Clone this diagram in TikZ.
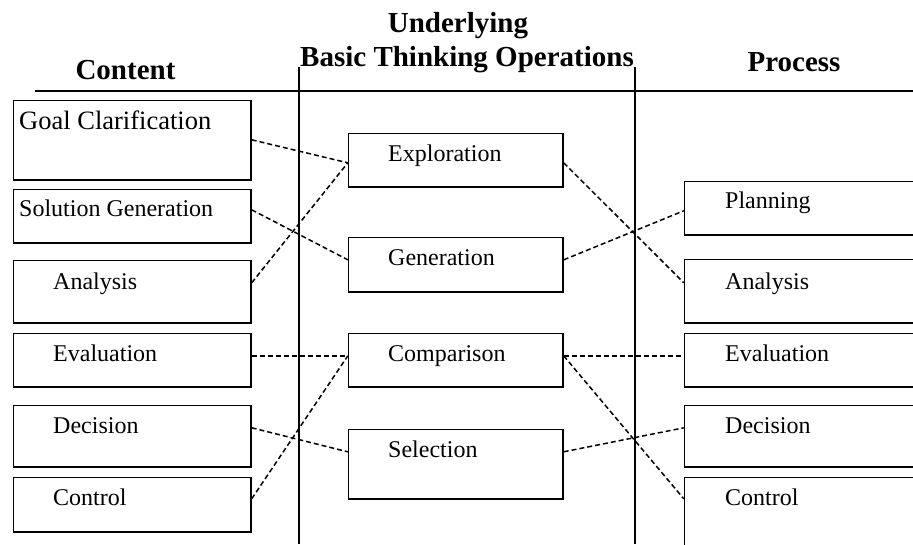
\documentclass[tikz,border=0pt]{standalone}
\usepackage{fontspec}
\setmainfont{Liberation Serif}
\usetikzlibrary{calc}
\begin{document}
\begin{tikzpicture}[x=1pt,y=-1pt,
  box/.style={draw, line width=1.5pt, inner sep=0pt, anchor=north west},
  txt/.style={anchor=base west, inner sep=0pt, font=\fontsize{24}{27}\selectfont},
  head/.style={anchor=base, inner sep=0pt, font=\fontsize{29}{32}\selectfont\bfseries},
  rule/.style={line width=1.5pt},
  link/.style={line width=1.5pt, dash pattern=on 5pt off 3pt}]
\useasboundingbox (0,0) rectangle (913,544);
\clip (0,0) rectangle (913,544);
% headers
\node[head] (hcontent) at (125.5,79) {Content};
\node[head] (hunder) at (458,32) {Underlying};
\node[head] (hbasic) at (467,66) {Basic Thinking Operations};
\node[head] (hprocess) at (794,71) {Process};
\draw[rule] (35,91) -- (913,91);
\draw[rule] (299,67) -- (299,544);
\draw[rule] (635,67) -- (635,544);
% left boxes
\node[box, minimum width=237.4pt, minimum height=79.4pt] (lgoal) at (12.8,99.8) {};
\node[box, minimum width=237.4pt, minimum height=53.4pt] (lsol) at (12.8,188.8) {};
\node[box, minimum width=237.4pt, minimum height=62.4pt] (lana) at (12.8,259.8) {};
\node[box, minimum width=237.4pt, minimum height=53.4pt] (leva) at (12.8,332.8) {};
\node[box, minimum width=237.4pt, minimum height=61.4pt] (ldec) at (12.8,404.8) {};
\node[box, minimum width=237.4pt, minimum height=54.4pt] (lcon) at (12.8,476.8) {};
\node[txt, font=\fontsize{26.5}{29}\selectfont] (tlgoal) at (19,129) {Goal Clarification};
\node[txt] (tlsol) at (19,216) {Solution Generation};
\node[txt] (tlana) at (53,289) {Analysis};
\node[txt] (tleva) at (53,361) {Evaluation};
\node[txt] (tldec) at (53,433) {Decision};
\node[txt] (tlcon) at (53,505) {Control};
% middle boxes
\node[box, minimum width=214.4pt, minimum height=53.4pt] (mexp) at (347.8,132.8) {};
\node[box, minimum width=214.4pt, minimum height=54.4pt] (mgen) at (347.8,236.8) {};
\node[box, minimum width=214.4pt, minimum height=53.4pt] (mcmp) at (347.8,332.8) {};
\node[box, minimum width=214.4pt, minimum height=69.4pt] (msel) at (347.8,428.8) {};
\node[txt] (tmexp) at (388,161) {Exploration};
\node[txt] (tmgen) at (388,265) {Generation};
\node[txt] (tmcmp) at (388,361) {Comparison};
\node[txt] (tmsel) at (388,457) {Selection};
% right boxes (run past the right edge)
\node[box, minimum width=260pt, minimum height=53.4pt] (rpla) at (683.8,180.8) {};
\node[box, minimum width=260pt, minimum height=63.4pt] (rana) at (683.8,258.8) {};
\node[box, minimum width=260pt, minimum height=53.4pt] (reva) at (683.8,332.8) {};
\node[box, minimum width=260pt, minimum height=61.4pt] (rdec) at (683.8,404.8) {};
\node[box, minimum width=260pt, minimum height=100pt] (rcon) at (683.8,476.8) {};
\node[txt] (trpla) at (725,208) {Planning};
\node[txt] (trana) at (725,289) {Analysis};
\node[txt] (treva) at (725,361) {Evaluation};
\node[txt] (trdec) at (725,433) {Decision};
\node[txt] (trcon) at (725,505) {Control};
% connectors left
\draw[link] ($(lgoal.north east)+(0,40)$) -- ($(mexp.north west)+(0,30)$);
\draw[link] ($(lsol.north east)+(0,21)$) -- ($(mgen.north west)+(0,23)$);
\draw[link] ($(lana.north east)+(0,23)$) -- ($(mexp.north west)+(0,30)$);
\draw[link] ($(leva.north east)+(0,23)$) -- ($(mcmp.north west)+(0,23)$);
\draw[link] ($(ldec.north east)+(0,23)$) -- ($(msel.north west)+(0,23)$);
\draw[link] ($(lcon.north east)+(0,22)$) -- ($(mcmp.north west)+(0,23)$);
% connectors right
\draw[link] ($(mexp.north east)+(0,30)$) -- ($(rana.north west)+(0,24)$);
\draw[link] ($(mgen.north east)+(0,23)$) -- ($(rpla.north west)+(0,30)$);
\draw[link] ($(mcmp.north east)+(0,23)$) -- ($(reva.north west)+(0,23)$);
\draw[link] ($(mcmp.north east)+(0,23)$) -- ($(rcon.north west)+(0,22)$);
\draw[link] ($(msel.north east)+(0,23)$) -- ($(rdec.north west)+(0,23)$);
\end{tikzpicture}
\end{document}
